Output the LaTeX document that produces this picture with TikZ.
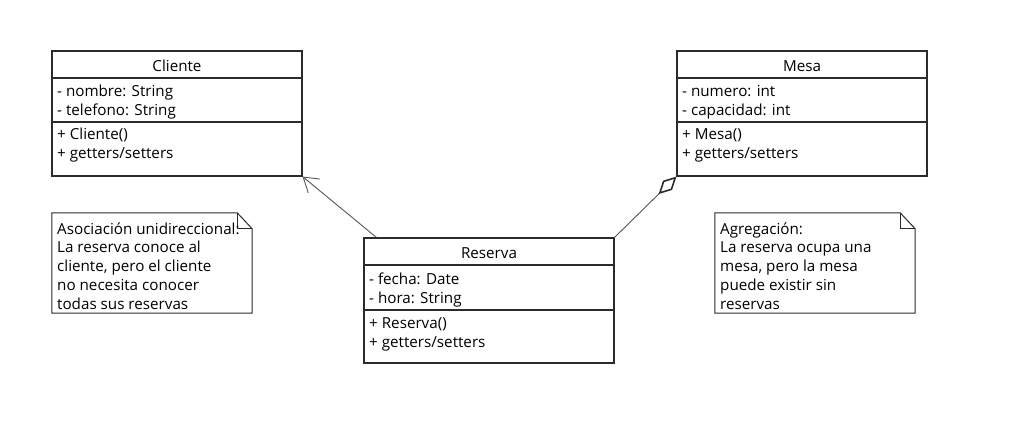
\documentclass[tikz,border=0pt]{standalone}
\usepackage{fontspec}
\setmainfont{Open Sans}
\usetikzlibrary{arrows.meta,calc}
\definecolor{boxline}{HTML}{2B2B2B}
\definecolor{connline}{HTML}{555555}
\tikzset{
  classbox/.style={draw=boxline,line width=1.1pt,minimum width=250pt,inner sep=0pt},
  sepline/.style={draw=boxline,line width=1.1pt},
  txt/.style={anchor=base west,inner sep=0pt,font=\fontsize{15.2}{18}\selectfont,text=black},
  ttl/.style={anchor=base,inner sep=0pt,font=\fontsize{15.2}{18}\selectfont,text=black},
  noteline/.style={draw=boxline,line width=1pt},
  conn/.style={draw=connline,line width=0.9pt},
}
\begin{document}
\begin{tikzpicture}[x=1pt,y=-1pt]
\useasboundingbox[fill=white] (0,0) rectangle (1017,441);
% ---------------- Cliente
\node[classbox,minimum height=125pt] (cliente) at (177,113.5) {};
\draw[sepline] (52,78) -- (302,78);
\draw[sepline] (52,122) -- (302,122);
\node[ttl] (clienteT) at (177,71.5) {Cliente};
\node[txt] (clienteA1) at (57,96.5) {- nombre: String};
\node[txt] (clienteA2) at (57,115.5) {- telefono: String};
\node[txt] (clienteM1) at (57,139.5) {+ Cliente()};
\node[txt] (clienteM2) at (57,158.5) {+ getters/setters};
% ---------------- Mesa
\node[classbox,minimum height=125pt] (mesa) at (802,113.5) {};
\draw[sepline] (677,78) -- (927,78);
\draw[sepline] (677,122) -- (927,122);
\node[ttl] (mesaT) at (802,71.5) {Mesa};
\node[txt] (mesaA1) at (682,96.5) {- numero: int};
\node[txt] (mesaA2) at (682,115.5) {- capacidad: int};
\node[txt] (mesaM1) at (682,139.5) {+ Mesa()};
\node[txt] (mesaM2) at (682,158.5) {+ getters/setters};
% ---------------- Reserva
\node[classbox,minimum height=125pt] (reserva) at (489,300.5) {};
\draw[sepline] (364,265) -- (614,265);
\draw[sepline] (364,310) -- (614,310);
\node[ttl] (reservaT) at (489,258.5) {Reserva};
\node[txt] (reservaA1) at (369,284.5) {- fecha: Date};
\node[txt] (reservaA2) at (369,303.5) {- hora: String};
\node[txt] (reservaM1) at (369,328.5) {+ Reserva()};
\node[txt] (reservaM2) at (369,347.5) {+ getters/setters};
% ---------------- Note 1
\node[minimum width=200pt,minimum height=100pt,inner sep=0pt] (note1) at (152,263) {};
\draw[noteline] (note1.north west) -- ($(note1.north east)+(-15,0)$) -- ($(note1.north east)+(0,16)$) -- (note1.south east) -- (note1.south west) -- cycle;
\draw[noteline] ($(note1.north east)+(-15,0)$) -- ($(note1.north east)+(-15,16)$) -- ($(note1.north east)+(0,16)$);
\node[txt] (n1l1) at (57,234) {Asociación unidireccional:};
\node[txt] (n1l2) at (57,252.7) {La reserva conoce al};
\node[txt] (n1l3) at (57,271.5) {cliente, pero el cliente};
\node[txt] (n1l4) at (57,290.2) {no necesita conocer};
\node[txt] (n1l5) at (57,309) {todas sus reservas};
% ---------------- Note 2
\node[minimum width=200pt,minimum height=100pt,inner sep=0pt] (note2) at (815,263) {};
\draw[noteline] (note2.north west) -- ($(note2.north east)+(-15,0)$) -- ($(note2.north east)+(0,16)$) -- (note2.south east) -- (note2.south west) -- cycle;
\draw[noteline] ($(note2.north east)+(-15,0)$) -- ($(note2.north east)+(-15,16)$) -- ($(note2.north east)+(0,16)$);
\node[txt] (n2l1) at (720,234) {Agregación:};
\node[txt] (n2l2) at (720,252.7) {La reserva ocupa una};
\node[txt] (n2l3) at (720,271.5) {mesa, pero la mesa};
\node[txt] (n2l4) at (720,290.2) {puede existir sin};
\node[txt] (n2l5) at (720,309) {reservas};
% ---------------- Connectors
\coordinate (assocStart) at ($(reserva.north west)+(13,0)$);
\draw[conn,-{Straight Barb[length=14pt,width=18pt]}] (assocStart) -- (cliente.south east);
\draw[conn,-{Diamond[open,length=25pt,width=13pt,line width=1.6pt,color=boxline]}] (reserva.north east) -- (mesa.south west);
\end{tikzpicture}
\end{document}
